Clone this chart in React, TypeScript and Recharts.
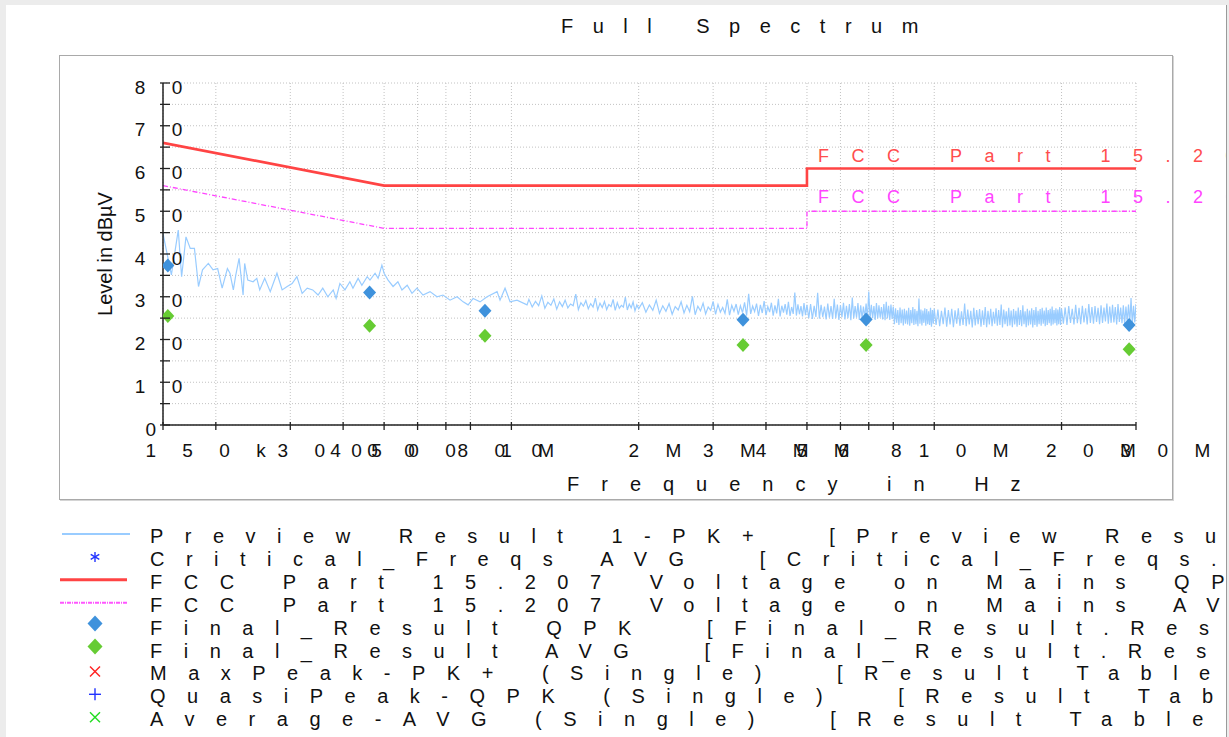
import React from "react";
import { ComposedChart, Line, Scatter, XAxis, YAxis, CartesianGrid, Legend } from "recharts";

const font = "'Liberation Sans', Arial, Helvetica, sans-serif";

// preview scan, frequency in MHz / level in dBµV
const previewFreqs = [
  0.150, 0.157, 0.163, 0.166, 0.170, 0.174, 0.178, 0.182, 0.186, 0.192, 0.197, 0.202, 0.207, 0.213, 0.216,
  0.220, 0.223, 0.227, 0.232, 0.234, 0.238, 0.245, 0.250, 0.254, 0.261, 0.269, 0.279, 0.287, 0.295, 0.303,
  0.311, 0.320, 0.329, 0.339, 0.349, 0.358, 0.368, 0.379, 0.385, 0.393, 0.404, 0.415, 0.422, 0.434, 0.443,
  0.456, 0.463, 0.476, 0.484, 0.494, 0.500, 0.511, 0.525, 0.539, 0.551, 0.567, 0.582, 0.598, 0.618, 0.642,
  0.667, 0.689, 0.716, 0.744, 0.769, 0.790, 0.812, 0.843, 0.876, 0.925, 0.940, 0.966, 0.993, 1.031, 1.089,
  1.10, 1.12, 1.14, 1.16, 1.18, 1.20, 1.22, 1.24, 1.26, 1.28,
  1.30, 1.32, 1.34, 1.36, 1.38, 1.40, 1.42, 1.44, 1.46, 1.48,
  1.50, 1.52, 1.54, 1.56, 1.58, 1.60, 1.62, 1.64, 1.66, 1.68,
  1.70, 1.72, 1.74, 1.76, 1.78, 1.80, 1.82, 1.84, 1.86, 1.88,
  1.90, 1.92, 1.94, 1.96, 1.98, 2.00,
  2.04, 2.08, 2.12, 2.16, 2.20, 2.24, 2.28, 2.32, 2.36, 2.40,
  2.44, 2.48, 2.52, 2.56, 2.60, 2.64, 2.68, 2.72, 2.76, 2.80,
  2.84, 2.88, 2.92, 2.96, 3.00, 3.04, 3.08, 3.12, 3.16, 3.20,
  3.24, 3.28, 3.32, 3.36, 3.40, 3.44, 3.48, 3.52, 3.56, 3.60,
  3.64, 3.68, 3.72, 3.76, 3.80, 3.84, 3.88, 3.92, 3.96, 4.00,
  4.04, 4.08, 4.12, 4.16, 4.20, 4.24, 4.28, 4.32, 4.36, 4.40,
  4.44, 4.48, 4.52, 4.56, 4.60, 4.64, 4.68, 4.72, 4.76, 4.80,
  4.84, 4.88, 4.92, 4.96, 5.00,
  5.05, 5.10, 5.15, 5.20, 5.25, 5.30, 5.35, 5.40, 5.45, 5.50,
  5.55, 5.60, 5.65, 5.70, 5.75, 5.80, 5.85, 5.90, 5.95, 6.00,
  6.05, 6.10, 6.15, 6.20, 6.25, 6.30, 6.35, 6.40, 6.45, 6.50,
  6.55, 6.60, 6.65, 6.70, 6.75, 6.80, 6.85, 6.90, 6.95, 7.00,
  7.05, 7.10, 7.15, 7.20, 7.25, 7.30, 7.35, 7.40, 7.45, 7.50,
  7.55, 7.60, 7.65, 7.70, 7.75, 7.80, 7.85, 7.90, 7.95, 8.00,
  8.05, 8.10, 8.15, 8.20, 8.25, 8.30, 8.35, 8.40, 8.45, 8.50,
  8.55, 8.60, 8.65, 8.70, 8.75, 8.80, 8.85, 8.90, 8.95, 9.00,
  9.05, 9.10, 9.15, 9.20, 9.25, 9.30, 9.35, 9.40, 9.45, 9.50,
  9.55, 9.60, 9.65, 9.70, 9.75, 9.80, 9.85, 9.90, 9.95, 10.00,
  10.1, 10.2, 10.3, 10.4, 10.5, 10.6, 10.7, 10.8, 10.9, 11.0,
  11.1, 11.2, 11.3, 11.4, 11.5, 11.6, 11.7, 11.8, 11.9, 12.0,
  12.1, 12.2, 12.3, 12.4, 12.5, 12.6, 12.7, 12.8, 12.9, 13.0,
  13.1, 13.2, 13.3, 13.4, 13.5, 13.6, 13.7, 13.8, 13.9, 14.0,
  14.1, 14.2, 14.3, 14.4, 14.5, 14.6, 14.7, 14.8, 14.9, 15.0,
  15.1, 15.2, 15.3, 15.4, 15.5, 15.6, 15.7, 15.8, 15.9, 16.0,
  16.1, 16.2, 16.3, 16.4, 16.5, 16.6, 16.7, 16.8, 16.9, 17.0,
  17.1, 17.2, 17.3, 17.4, 17.5, 17.6, 17.7, 17.8, 17.9, 18.0,
  18.1, 18.2, 18.3, 18.4, 18.5, 18.6, 18.7, 18.8, 18.9, 19.0,
  19.1, 19.2, 19.3, 19.4, 19.5, 19.6, 19.7, 19.8, 19.9, 20.0,
  20.2, 20.4, 20.6, 20.8, 21.0, 21.2, 21.4, 21.6, 21.8, 22.0,
  22.2, 22.4, 22.6, 22.8, 23.0, 23.2, 23.4, 23.6, 23.8, 24.0,
  24.2, 24.4, 24.6, 24.8, 25.0, 25.2, 25.4, 25.6, 25.8, 26.0,
  26.2, 26.4, 26.6, 26.8, 27.0, 27.2, 27.4, 27.6, 27.8, 28.0,
  28.2, 28.4, 28.6, 28.8, 29.0, 29.2, 29.4, 29.6, 29.8, 30.0,
];
const previewLevels = [
  44.8, 35.1, 45.6, 34.7, 44.0, 41.3, 41.3, 32.4, 36.3, 37.8, 36.3, 36.6, 32.0, 36.6, 35.5,
  31.6, 35.1, 39.0, 30.4, 37.8, 33.9, 33.5, 34.3, 31.6, 34.3, 31.2, 35.5, 31.6, 32.4, 33.1,
  34.7, 30.8, 32.0, 31.6, 30.4, 32.0, 30.0, 31.6, 29.6, 33.1, 31.6, 33.5, 32.0, 34.3, 32.7,
  34.7, 33.9, 35.5, 34.3, 37.4, 35.5, 33.9, 32.4, 33.5, 31.6, 32.7, 30.8, 32.0, 30.4, 31.2,
  30.0, 30.4, 29.2, 30.0, 28.8, 28.1, 29.6, 28.8, 30.0, 31.2, 29.2, 32.0, 28.8, 29.2, 28.1,
  29.4, 27.6, 28.9, 27.9, 30.2, 27.3, 28.7, 28.0, 29.5, 27.1,
  28.8, 27.7, 29.2, 27.4, 28.3, 27.9, 30.6, 27.0, 28.6, 27.8,
  29.1, 27.2, 28.4, 27.6, 29.7, 26.9, 28.5, 27.5, 28.9, 27.0,
  28.2, 27.7, 29.4, 26.8, 28.6, 27.3, 28.0, 27.6, 29.9, 26.9,
  28.3, 27.4, 28.8, 26.7, 28.1, 27.2,
  28.6, 26.4, 28.1, 26.8, 29.2, 26.1, 27.9, 26.6, 28.4, 25.9,
  27.7, 26.9, 28.8, 26.2, 28.0, 26.5, 30.1, 25.8, 27.8, 26.7,
  28.5, 26.0, 27.6, 26.8, 28.9, 25.9, 28.2, 26.4, 27.5, 26.1,
  29.4, 25.7, 28.0, 26.6, 28.3, 25.8, 27.9, 26.3, 28.7, 25.6,
  30.7, 26.0, 27.8, 26.5, 28.4, 25.5, 28.1, 26.2, 29.0, 25.7,
  27.7, 26.4, 28.6, 25.6, 28.0, 26.1, 29.5, 25.4, 27.9, 26.3,
  28.3, 25.8, 28.8, 25.5, 27.6, 26.0, 31.0, 25.6, 28.2, 25.9,
  27.8, 25.4, 28.5, 25.7, 28.1,
  25.0, 28.3, 24.8, 27.9, 25.3, 30.9, 24.9, 28.1, 25.2, 27.7,
  24.7, 28.4, 25.1, 27.8, 24.8, 29.5, 25.0, 28.2, 24.6, 28.0,
  25.2, 28.6, 24.7, 27.9, 25.0, 28.3, 24.5, 29.8, 24.9, 27.8,
  25.1, 28.5, 24.6, 28.0, 24.9, 27.7, 25.2, 28.4, 24.7, 31.2,
  24.8, 28.1, 25.0, 27.8, 24.6, 28.5, 24.9, 28.0, 25.1, 27.6,
  24.7, 28.3, 24.5, 28.8, 24.9, 27.9, 24.6, 28.2, 24.8, 27.7,
  23.6, 27.3, 23.9, 26.9, 23.4, 27.5, 23.8, 27.0, 23.3, 27.2,
  23.7, 26.8, 23.5, 27.4, 23.2, 26.9, 23.8, 27.6, 23.4, 27.1,
  23.6, 26.7, 23.1, 29.6, 23.7, 27.0, 23.3, 26.8, 23.9, 27.3,
  23.2, 27.1, 23.6, 26.6, 23.4, 27.4, 23.0, 26.9, 23.7, 27.2,
  23.4, 27.0, 23.1, 26.7, 23.6, 27.5, 23.0, 26.9, 23.5, 27.2,
  22.9, 26.8, 23.7, 27.3, 23.2, 26.6, 23.4, 28.4, 23.1, 27.0,
  23.5, 26.7, 22.8, 27.4, 23.3, 26.9, 23.6, 27.1, 23.0, 26.8,
  23.4, 27.6, 22.9, 26.7, 23.5, 27.2, 23.1, 26.5, 23.7, 27.3,
  23.2, 26.9, 23.4, 28.2, 22.8, 27.0, 23.6, 26.6, 23.1, 27.4,
  23.3, 26.8, 22.9, 27.1, 23.5, 26.7, 23.0, 27.5, 23.4, 26.9,
  23.1, 28.0, 23.6, 26.6, 22.9, 27.2, 23.3, 26.8, 23.5, 27.3,
  22.8, 26.9, 23.4, 27.6, 23.0, 26.7, 23.6, 27.1, 23.2, 27.4,
  23.7, 26.8, 23.1, 27.5, 23.4, 26.9, 23.8, 27.2, 23.2, 27.7,
  23.5, 26.9, 23.8, 27.3, 23.3, 27.0, 23.6, 27.6, 23.4, 27.2,
  23.7, 27.5, 23.4, 27.8, 23.9, 27.2, 23.5, 28.1, 23.8, 27.4,
  23.6, 27.9, 24.0, 27.3, 23.5, 28.3, 23.9, 27.6, 23.7, 27.8,
  24.1, 27.4, 23.6, 28.0, 23.9, 27.5, 24.2, 28.4, 23.7, 27.7,
  23.9, 28.1, 24.0, 27.6, 23.5, 28.3, 24.1, 27.5, 23.8, 28.0,
  23.6, 27.7, 24.2, 28.2, 23.8, 29.7, 23.5, 27.9, 24.0, 28.3,
];

// FCC Part 15.207 limits
const qpLimitFreqs = [0.15, 0.5, 5, 5, 30];
const qpLimitLevels = [66, 56, 56, 60, 60];
const avLimitFreqs = [0.15, 0.5, 5, 5, 30];
const avLimitLevels = [56, 46, 46, 50, 50];

// final measurements
const finalFreqs = [0.154, 0.462, 0.866, 3.53, 6.9, 28.9];
const finalQpk = [37.3, 31.0, 26.7, 24.6, 24.7, 23.4];
const finalAvg = [25.5, 23.2, 20.9, 18.7, 18.7, 17.7];

const xTicks = [0.15, 0.2, 0.3, 0.4, 0.5, 0.6, 0.7, 0.8, 1, 2, 3, 4, 5, 6, 7, 8, 10, 20, 30];
const xTickLabels = ["150k", "", "300", "400", "500", "", "", "800", "1M", "2M", "3M", "4M", "5M", "6", "", "8", "10M", "20M", "30M"];
const yTicks = [0, 5, 10, 15, 20, 25, 30, 35, 40, 45, 50, 55, 60, 65, 70, 75, 80];
const yTickLabels = ["0", "", "10", "", "20", "", "30", "", "40", "", "50", "", "60", "", "70", "", "80"];

const limitNames = ["FCC Part 15.207 Voltage on Mains QP", "FCC Part 15.207 Voltage on Mains AV"];
const legendNames = [
  "Preview Result 1-PK+  [Preview Result",
  "Critical_Freqs AVG  [Critical_Freqs.Result",
  "FCC Part 15.207 Voltage on Mains QP",
  "FCC Part 15.207 Voltage on Mains AV",
  "Final_Result QPK  [Final_Result.Result",
  "Final_Result AVG  [Final_Result.Result",
  "MaxPeak-PK+ (Single)  [Result Table",
  "QuasiPeak-QPK (Single)  [Result Table",
  "Average-AVG (Single)  [Result Table",
];

const toRows = (fs: number[], vs: number[]) => fs.map((f, i) => ({ f, v: vs[i] }));
const previewRows = toRows(previewFreqs, previewLevels);
const qpRows = toRows(qpLimitFreqs, qpLimitLevels);
const avRows = toRows(avLimitFreqs, avLimitLevels);
const qpkRows = toRows(finalFreqs, finalQpk);
const avgRows = toRows(finalFreqs, finalAvg);

// rough Liberation Sans advance widths, used to centre the spaced-out tick labels
const natWidth = (s: string, size: number) =>
  s.split("").reduce((a, c) => a + (c === "M" ? 0.833 : c === "k" ? 0.5 : 0.556) * size, 0);

const TICK_FS = 19;
const tickText = { fontFamily: font, fontSize: TICK_FS, fill: "#111", letterSpacing: 26.4 } as const;

function XTick(props: any) {
  const { x, y, payload } = props;
  const label = xTickLabels[xTicks.indexOf(payload.value)] || "";
  return (
    <g>
      <line x1={x} x2={x} y1={y - 3} y2={y + 5} stroke="#222" strokeWidth={1.3} />
      {label && (
        <text x={x - natWidth(label, TICK_FS) / 2 + 3} y={y + 32} style={tickText}>
          {label}
        </text>
      )}
    </g>
  );
}

function YTick(props: any) {
  const { x, y, payload } = props;
  const label = yTickLabels[yTicks.indexOf(payload.value)] || "";
  return (
    <g>
      <line x1={x - 3} x2={x + 7} y1={y} y2={y} stroke="#222" strokeWidth={1.3} />
      {label && (
        <text x={x - 7 - natWidth(label, TICK_FS)} y={y + 10.5} style={tickText}>
          {label}
        </text>
      )}
    </g>
  );
}

const limitLabel = (name: string, color: string, dy: number) => (p: any) => {
  if (p.index !== 3) return null;
  const x = p.x ?? p.viewBox?.x;
  const y = p.y ?? p.viewBox?.y;
  return (
    <text x={x + 11} y={y - dy} fill={color} style={{ fontFamily: font, fontSize: 18, letterSpacing: 22.5 }}>
      {name}
    </text>
  );
};

const diamond = (color: string, r: number) => (p: any) => (
  <polygon
    points={`${p.cx},${p.cy - r} ${p.cx + r - 0.5},${p.cy} ${p.cx},${p.cy + r} ${p.cx - r + 0.5},${p.cy}`}
    fill={color}
  />
);

function legendSymbol(i: number, cx: number, cy: number) {
  switch (i) {
    case 0:
      return <line x1={62} x2={130} y1={cy} y2={cy} stroke="#99ccff" strokeWidth={2} />;
    case 1:
      return (
        <g stroke="#2233ff" strokeWidth={1.4}>
          <line x1={cx} x2={cx} y1={cy - 5} y2={cy + 5} />
          <line x1={cx - 4.3} x2={cx + 4.3} y1={cy - 2.5} y2={cy + 2.5} />
          <line x1={cx - 4.3} x2={cx + 4.3} y1={cy + 2.5} y2={cy - 2.5} />
        </g>
      );
    case 2:
      return <line x1={60} x2={127} y1={cy} y2={cy} stroke="#ff4444" strokeWidth={3} />;
    case 3:
      return <line x1={60} x2={127} y1={cy} y2={cy} stroke="#ff55ff" strokeWidth={2} strokeDasharray="4 1 1 1" />;
    case 4:
      return diamond("#3f92dc", 8)({ cx, cy: cy - 2 });
    case 5:
      return diamond("#66cc33", 8)({ cx, cy: cy - 2 });
    case 6:
    case 8: {
      const c = i === 6 ? "#ff2222" : "#22dd22";
      return (
        <g stroke={c} strokeWidth={1.4}>
          <line x1={cx - 5} x2={cx + 5} y1={cy - 5} y2={cy + 5} />
          <line x1={cx - 5} x2={cx + 5} y1={cy + 5} y2={cy - 5} />
        </g>
      );
    }
    default:
      return (
        <g stroke="#2233ff" strokeWidth={1.4}>
          <line x1={cx - 6} x2={cx + 6} y1={cy} y2={cy} />
          <line x1={cx} x2={cx} y1={cy - 6} y2={cy + 6} />
        </g>
      );
  }
}

function LegendRows() {
  return (
    <svg width={1226} height={222} style={{ display: "block" }}>
      {legendNames.map((name, i) => {
        const base = 28 + i * 22.9;
        return (
          <g key={name}>
            {legendSymbol(i, 95, base - 9)}
            <text
              x={150}
              y={base}
              style={{ fontFamily: font, fontSize: 20, fill: "#111", letterSpacing: 21.5, whiteSpace: "pre" }}
            >
              {name}
            </text>
          </g>
        );
      })}
    </svg>
  );
}

const XLabel = (p: any) => (
  <text
    x={p.viewBox.x + 404}
    y={p.viewBox.y + 66}
    style={{ fontFamily: font, fontSize: 20, fill: "#111", letterSpacing: 22, whiteSpace: "pre" }}
  >
    Frequency in Hz
  </text>
);

const YLabel = (p: any) => {
  const x = p.viewBox.x + 9;
  const y = p.viewBox.y + p.viewBox.height / 2;
  return (
    <text
      x={x}
      y={y}
      transform={`rotate(-90, ${x}, ${y})`}
      textAnchor="middle"
      style={{ fontFamily: font, fontSize: 20, fill: "#111" }}
    >
      Level in dBµV
    </text>
  );
};

export default function App() {
  return (
    <div
      style={{
        position: "fixed",
        left: 0,
        top: 0,
        width: 1229,
        height: 737,
        overflow: "hidden",
        background: "#ececec",
        fontFamily: font,
      }}
    >
      <div
        style={{
          position: "absolute",
          left: 6,
          top: 5,
          width: 1220,
          height: 740,
          background: "#fff",
          borderRight: "1px solid #9a9a9a",
        }}
      />
      <div
        style={{
          position: "absolute",
          left: 59,
          top: 55,
          width: 1112,
          height: 443,
          border: "1px solid #a9a9a9",
          boxShadow: "1px 1px 0 #d4d4d4",
        }}
      />
      <svg width={1229} height={50} style={{ position: "absolute", left: 0, top: 0 }}>
        <text x={561} y={33} style={{ fontFamily: font, fontSize: 20, fill: "#111", letterSpacing: 19.5 }}>
          Full Spectrum
        </text>
      </svg>
      <div style={{ position: "absolute", left: 0, top: 0, width: 1226, height: 737, overflow: "hidden" }}>
        <ComposedChart width={1229} height={737} margin={{ top: 83, right: 93, bottom: 282, left: 103 }}>
          <CartesianGrid stroke="#c2c2c2" strokeDasharray="1 2" />
          <XAxis
            dataKey="f"
            type="number"
            scale="log"
            domain={[0.15, 30]}
            allowDataOverflow
            ticks={xTicks}
            interval={0}
            height={30}
            tickSize={0}
            tickMargin={0}
            tick={(p: any) => <XTick {...p} />}
            stroke="#222"
            strokeWidth={1.5}
            label={{ content: XLabel }}
          />
          <YAxis
            dataKey="v"
            type="number"
            domain={[0, 80]}
            ticks={yTicks}
            interval={0}
            width={60}
            tickSize={0}
            tickMargin={0}
            tick={(p: any) => <YTick {...p} />}
            stroke="#222"
            strokeWidth={1.5}
            label={{ content: YLabel }}
          />
          <Line
            data={avRows}
            dataKey="v"
            type="linear"
            stroke="#ff44ff"
            strokeWidth={1.3}
            strokeDasharray="5 2 1 2"
            dot={false}
            isAnimationActive={false}
            label={limitLabel(limitNames[1], "#ff44ff", 8.5)}
          />
          <Line
            data={qpRows}
            dataKey="v"
            type="linear"
            stroke="#ff4444"
            strokeWidth={2.6}
            dot={false}
            isAnimationActive={false}
            label={limitLabel(limitNames[0], "#ff4d4d", 7)}
          />
          <Line
            data={previewRows}
            dataKey="v"
            type="linear"
            stroke="#99ccff"
            strokeWidth={1.2}
            dot={false}
            isAnimationActive={false}
          />
          <Scatter data={qpkRows} dataKey="v" shape={diamond("#3f92dc", 7)} isAnimationActive={false} />
          <Scatter data={avgRows} dataKey="v" shape={diamond("#66cc33", 7)} isAnimationActive={false} />
          <Legend
            layout="horizontal"
            verticalAlign="middle"
            align="center"
            wrapperStyle={{ left: 0, top: 515, width: 1226 }}
            content={() => <LegendRows />}
          />
        </ComposedChart>
      </div>
    </div>
  );
}
